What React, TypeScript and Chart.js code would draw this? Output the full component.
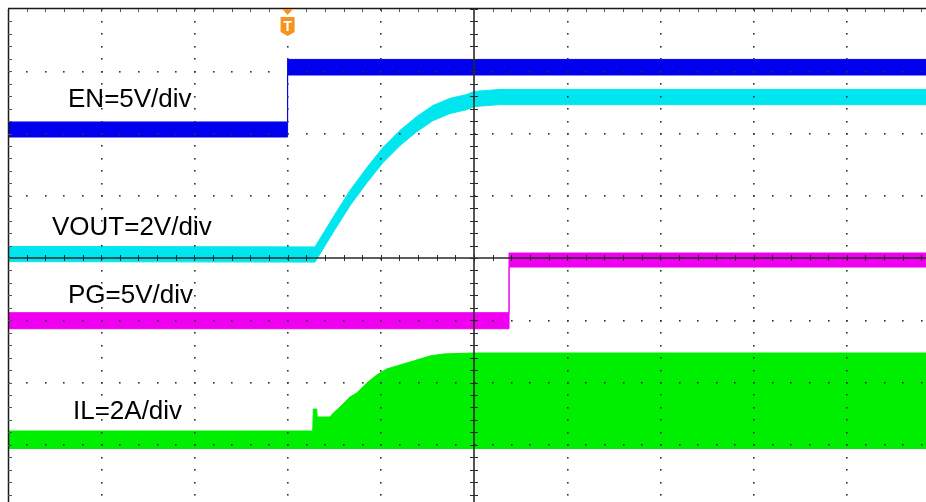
import React, { useEffect, useRef } from 'react';
import { Chart, registerables } from 'chart.js';

Chart.register(...registerables);

// Time axis in divisions (0..10), vertical axis in divisions (-4..4)
const X_MIN = 0;
const X_MAX = 10;
const Y_MIN = -4;
const Y_MAX = 4;
const TRIGGER_TIME = 3.0;

// EN = 5V/div (band envelopes, divisions)
const enTime = [0, 3.0, 3.0, 10];
const enUpper = [2.185, 2.185, 3.19, 3.19];
const enLower = [1.944, 1.944, 2.94, 2.94];

// VOUT = 2V/div (centre level, divisions)
const voutTime = [0, 3.294, 3.487, 3.67, 3.852, 4.024, 4.206, 4.388, 4.56, 4.742, 4.925, 5.0, 5.279, 10];
const voutLevel = [0.064, 0.056, 0.53, 0.964, 1.333, 1.655, 1.928, 2.153, 2.329, 2.442, 2.506, 2.554, 2.586, 2.586];
const voutHalfBand = 0.122;

// PG = 5V/div
const pgTime = [0, 5.376, 5.376, 10];
const pgUpper = [-0.879, -0.879, 0.08, 0.08];
const pgLower = [-1.136, -1.136, -0.145, -0.145];

// IL = 2A/div (upper envelope, floor)
const ilTime = [0, 3.27, 3.276, 3.312, 3.318, 3.455, 3.491, 3.562, 3.67, 3.741, 3.849, 3.956, 4.063, 4.206, 4.349, 4.528, 4.671, 4.993, 10];
const ilUpper = [-2.779, -2.779, -2.426, -2.426, -2.554, -2.554, -2.49, -2.394, -2.233, -2.169, -2.008, -1.88, -1.783, -1.719, -1.655, -1.574, -1.542, -1.526, -1.526];
const ilFloor = -3.068;

// Channel labels
const labelTexts = ['EN=5V/div', 'VOUT=2V/div', 'PG=5V/div', 'IL=2A/div'];
const labelX = [0.644, 0.472, 0.644, 0.697];
const labelY = [2.426, 0.369, -0.723, -2.586];

const EN_COLOR = '#0000ee';
const VOUT_COLOR = '#00e6ef';
const PG_COLOR = '#f000f0';
const IL_COLOR = '#00ee00';

const pts = (xs: number[], ys: number[]) => xs.map((x, i) => ({ x, y: ys[i] }));

const band = (color: string, xs: number[], up: number[], lo: number[]) => [
  {
    data: pts(xs, up),
    borderColor: color,
    backgroundColor: color,
    borderWidth: 1,
    pointRadius: 0,
    tension: 0,
    fill: false,
  },
  {
    data: pts(xs, lo),
    borderColor: color,
    backgroundColor: color,
    borderWidth: 1,
    pointRadius: 0,
    tension: 0,
    fill: '-1',
  },
];

const scopePlugin = {
  id: 'scopeGrid',
  afterDatasetsDraw(chart: any) {
    const { ctx, chartArea, scales } = chart;
    const xs = scales.x;
    const ys = scales.y;
    ctx.save();
    const dot = (px: number, py: number) => {
      ctx.fillRect(Math.round(px) - 1, Math.round(py) - 1, 1.6, 1.6);
    };
    ctx.fillStyle = '#303030';
    // vertical dotted major lines
    for (let d = 1; d < 10; d++) {
      if (d === 5) continue;
      const px = xs.getPixelForValue(d);
      for (let m = Y_MIN * 5; m <= Y_MAX * 5; m++) {
        dot(px + 0.5, ys.getPixelForValue(m / 5) + 0.5);
      }
    }
    // horizontal dotted major lines
    for (let d = -3; d <= 3; d++) {
      if (d === 0) continue;
      const py = ys.getPixelForValue(d);
      for (let m = 0; m <= 50; m++) {
        dot(xs.getPixelForValue(m / 5) + 0.5, py + 0.5);
      }
    }
    // centre cross lines
    ctx.strokeStyle = '#2a2a2a';
    ctx.lineWidth = 1.6;
    const cx = xs.getPixelForValue(5);
    const cy = ys.getPixelForValue(0);
    ctx.beginPath();
    ctx.moveTo(cx, chartArea.top);
    ctx.lineTo(cx, chartArea.bottom);
    ctx.moveTo(chartArea.left, cy);
    ctx.lineTo(chartArea.right, cy);
    ctx.stroke();
    ctx.lineWidth = 1;
    ctx.beginPath();
    for (let m = Y_MIN * 5; m <= Y_MAX * 5; m++) {
      const py = Math.round(ys.getPixelForValue(m / 5)) + 0.5;
      ctx.moveTo(cx - 4, py);
      ctx.lineTo(cx + 4, py);
    }
    for (let m = 0; m <= 50; m++) {
      const px = Math.round(xs.getPixelForValue(m / 5)) + 0.5;
      ctx.moveTo(px, cy - 3);
      ctx.lineTo(px, cy + 3);
    }
    ctx.stroke();
    // border (top and left) with ticks
    ctx.strokeStyle = '#1a1a1a';
    ctx.lineWidth = 1.5;
    ctx.beginPath();
    ctx.moveTo(chartArea.left, chartArea.top - 0.5);
    ctx.lineTo(chartArea.right, chartArea.top - 0.5);
    ctx.moveTo(chartArea.left + 0.5, chartArea.top);
    ctx.lineTo(chartArea.left + 0.5, chartArea.bottom);
    ctx.stroke();
    ctx.lineWidth = 1;
    ctx.strokeStyle = '#555';
    ctx.beginPath();
    for (let m = 1; m < 50; m++) {
      const px = Math.round(xs.getPixelForValue(m / 5)) + 0.5;
      ctx.moveTo(px, chartArea.top);
      ctx.lineTo(px, chartArea.top + 3);
    }
    for (let m = Y_MIN * 5 + 1; m < Y_MAX * 5; m++) {
      const py = Math.round(ys.getPixelForValue(m / 5)) + 0.5;
      ctx.moveTo(chartArea.left, py);
      ctx.lineTo(chartArea.left + 4, py);
    }
    ctx.stroke();

    // trigger marker
    const tx = xs.getPixelForValue(TRIGGER_TIME);
    const top = chartArea.top;
    ctx.fillStyle = '#f7941d';
    ctx.beginPath();
    ctx.moveTo(tx - 5.5, top);
    ctx.lineTo(tx + 5.5, top);
    ctx.lineTo(tx, top + 6);
    ctx.closePath();
    ctx.fill();
    ctx.beginPath();
    ctx.moveTo(tx - 7, top + 8);
    ctx.lineTo(tx + 7, top + 8);
    ctx.lineTo(tx + 7, top + 23);
    ctx.lineTo(tx, top + 27);
    ctx.lineTo(tx - 7, top + 23);
    ctx.closePath();
    ctx.fill();
    ctx.fillStyle = '#ffffff';
    ctx.font = 'bold 14px "Liberation Sans", Arial, sans-serif';
    ctx.textAlign = 'center';
    ctx.textBaseline = 'alphabetic';
    ctx.fillText('T', tx, top + 22);

    // channel labels
    ctx.fillStyle = '#000000';
    ctx.font = '26px "Liberation Sans", Arial, sans-serif';
    ctx.textAlign = 'left';
    labelTexts.forEach((t, i) => {
      ctx.fillText(t, xs.getPixelForValue(labelX[i]), ys.getPixelForValue(labelY[i]));
    });
    ctx.restore();
  },
};

export default function App() {
  const ref = useRef<HTMLCanvasElement | null>(null);
  useEffect(() => {
    if (!ref.current) return;
    const datasets: any[] = [
      ...band(EN_COLOR, enTime, enUpper, enLower),
      ...band(
        VOUT_COLOR,
        voutTime,
        voutLevel.map((v) => v + voutHalfBand),
        voutLevel.map((v) => v - voutHalfBand)
      ),
      ...band(PG_COLOR, pgTime, pgUpper, pgLower),
      {
        data: pts(ilTime, ilUpper),
        borderColor: IL_COLOR,
        backgroundColor: IL_COLOR,
        borderWidth: 1,
        pointRadius: 0,
        tension: 0,
        fill: { value: ilFloor },
      },
    ];
    const chart = new Chart(ref.current, {
      type: 'line',
      data: { datasets },
      options: {
        animation: false,
        responsive: false,
        devicePixelRatio: 1,
        parsing: false as any,
        normalized: true,
        layout: { padding: { left: 8, top: 9, right: 2, bottom: 13 } },
        plugins: { legend: { display: false }, tooltip: { enabled: false } },
        scales: {
          x: { type: 'linear', min: X_MIN, max: X_MAX, display: false },
          y: { type: 'linear', min: Y_MIN, max: Y_MAX, display: false },
        },
        events: [],
      },
      plugins: [scopePlugin],
    });
    return () => chart.destroy();
  }, []);
  return (
    <div
      style={{
        position: 'fixed',
        left: 0,
        top: 0,
        width: 926,
        height: 502,
        overflow: 'hidden',
        background: '#ffffff',
      }}
    >
      <canvas ref={ref} width={942} height={520} style={{ display: 'block', width: 942, height: 520 }} />
    </div>
  );
}
